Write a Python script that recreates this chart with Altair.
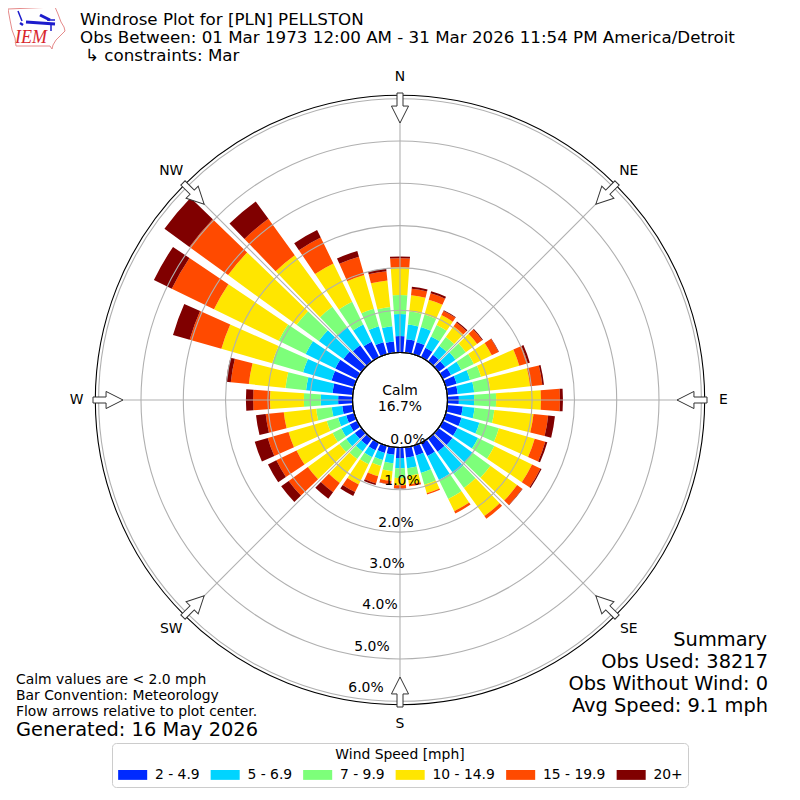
import math
import altair as alt
import pandas as pd

SPEEDS = ["2 - 4.9", "5 - 6.9", "7 - 9.9", "10 - 14.9", "15 - 19.9", "20+"]
COLORS = ["#002aff", "#00d4ff", "#7dff7a", "#ffe600", "#ff4a00", "#800000"]
DIRECTIONS = list(range(0, 360, 10))
# cumulative percent of observations at the top of each speed class
S1 = [.39,.32,.30,.25,.20,.20,.22,.27,.25,.27,.37,.39,.39,.41,.39,.35,.24,.25,.25,.18,.18,.20,.20,.20,.20,.20,.25,.34,.48,.56,.58,.53,.48,.41,.30,.27]
S2 = [.91,.67,.67,.55,.46,.50,.49,.60,.64,.63,.65,.83,.93,1.0,1.03,.98,.67,.50,.49,.38,.35,.38,.38,.45,.42,.40,.50,.75,1.11,1.26,1.36,1.25,1.0,.86,.69,.63]
S3 = [1.36,.98,.98,.85,.72,.80,.82,.87,1.02,1.15,1.12,1.31,1.36,1.52,1.45,1.48,.96,.68,.72,.57,.50,.57,.60,.65,.65,.68,.87,1.15,1.6,2.02,2.07,1.9,1.6,1.46,1.12,1.09]
S4 = [2.02,1.37,1.34,1.11,1.03,1.13,1.29,1.81,1.97,2.21,2.05,2.19,2.35,2.3,2.27,1.80,1.17,.88,.89,.80,.75,1.1,1.3,1.57,1.6,1.62,1.64,1.95,2.47,3.27,3.77,3.9,3.11,2.47,1.95,1.72]
S5 = [2.23,1.52,1.50,1.22,1.14,1.28,1.47,2.02,2.26,2.66,2.40,2.45,2.57,2.45,2.35,1.86,1.2,.93,.96,.88,.93,1.3,1.57,2.13,2.13,2.13,2.07,2.35,2.9,4.05,4.88,5.03,4.17,3.15,2.4,1.94]
S6 = [2.27,1.57,1.55,1.24,1.17,1.30,1.48,2.07,2.30,2.73,2.56,2.50,2.60,2.46,2.35,1.86,1.2,.93,.97,.89,.97,1.4,1.76,2.35,2.35,2.45,2.3,2.52,3.01,4.46,5.35,5.76,4.68,3.35,2.54,2.0]
SERIES = [S1, S2, S3, S4, S5, S6]

RINGS = [1, 2, 3, 4, 5, 6]
RING_LABELS = ["0.0%", "1.0%", "2.0%", "3.0%", "4.0%", "5.0%", "6.0%"]
RING_LABEL_X = [408, 402, 396, 387, 380, 372, 366]
RING_LABEL_Y = [440, 481, 523, 564, 605, 647, 688]
COMPASS = ["N", "NE", "E", "SE", "S", "SW", "W", "NW"]
COMPASS_DEG = [0, 45, 90, 135, 180, 225, 270, 315]

R0, PX = 47.5, 42.3      # pixel radius of 0 % and pixels per 1 %
CX, CY = 392, 392        # plot centre inside the 784 px canvas
BAR_DEG = 8.0

rscale = alt.Scale(type="linear", domain=[0, 6], range=[R0, R0 + 6 * PX], zero=False, clamp=False)
xscale = alt.Scale(domain=[-CX, CX], range=[0, 784], nice=False, zero=False)
yscale = alt.Scale(domain=[CY, -CY], range=[0, 784], nice=False, zero=False)

rows = []
for i, d in enumerate(DIRECTIONS):
    lo = 0.0
    for k, name in enumerate(SPEEDS):
        hi = SERIES[k][i]
        rows.append(dict(speed=name, order=k,
                         t0=math.radians(d - BAR_DEG / 2), t1=math.radians(d + BAR_DEG / 2), r0=lo, r1=hi))
        lo = hi
bars_df = pd.DataFrame(rows)

legend = alt.Legend(
    title="Wind Speed [mph]", orient="none", legendX=104, legendY=735, direction="horizontal",
    columns=6, gridAlign="each", columnPadding=9.5, symbolType="M-1,-0.85H4V0.85H-1Z", symbolSize=135,
    symbolStrokeWidth=0, labelFontSize=13.9, titleFontSize=13.9, labelFont="DejaVu Sans", titleFont="DejaVu Sans",
    labelColor="black", titleColor="black", titleFontWeight="normal", titleAnchor="middle", titlePadding=6,
    fillColor="white", strokeColor="#cccccc", cornerRadius=4, padding=5, labelOffset=24, labelLimit=100,
)

bars = alt.Chart(bars_df).mark_arc(strokeWidth=0).encode(
    theta=alt.Theta("t0:Q", scale=None),
    theta2=alt.Theta2("t1:Q"),
    radius=alt.Radius("r1:Q", scale=rscale, stack=None),
    radius2=alt.Radius2("r0:Q"),
    color=alt.Color("speed:N", scale=alt.Scale(domain=SPEEDS, range=COLORS), legend=legend),
)

rings = alt.Chart(pd.DataFrame({"v": RINGS})).mark_arc(
    theta=0, theta2=2 * math.pi, filled=False, stroke="#b0b0b0", strokeWidth=1.1
).encode(radius=alt.Radius("v:Q", scale=rscale, stack=None))

outer = alt.Chart(pd.DataFrame({"v": [6.08]})).mark_arc(
    theta=0, theta2=2 * math.pi, filled=False, stroke="black", strokeWidth=1.1
).encode(radius=alt.Radius("v:Q", scale=rscale, stack=None))

calm = alt.Chart(pd.DataFrame({"v": [0.0]})).mark_arc(
    theta=0, theta2=2 * math.pi, fill="white", stroke="black", strokeWidth=1.1
).encode(radius=alt.Radius("v:Q", scale=rscale, stack=None))

spokes_df = pd.DataFrame([
    dict(x=R0 * math.sin(math.radians(a)), y=R0 * math.cos(math.radians(a)),
         x2=(R0 + 6 * PX) * math.sin(math.radians(a)), y2=(R0 + 6 * PX) * math.cos(math.radians(a)))
    for a in COMPASS_DEG])
spokes = alt.Chart(spokes_df).mark_rule(stroke="#b0b0b0", strokeWidth=1.1).encode(
    x=alt.X("x:Q", scale=xscale, axis=None), y=alt.Y("y:Q", scale=yscale, axis=None),
    x2="x2:Q", y2="y2:Q")

ARROW = "M-0.2,-1L0.2,-1L0.2,-0.13L0.57,-0.13L0,1L-0.57,-0.13L-0.2,-0.13Z"
arrow_df = pd.DataFrame([
    dict(x=292 * math.sin(math.radians(a)), y=292 * math.cos(math.radians(a)), a=a) for a in COMPASS_DEG])
arrows = alt.Chart(arrow_df).mark_point(
    shape=ARROW, size=900, filled=True, fill="white", fillOpacity=1, stroke="#333333", strokeWidth=1, opacity=1
).encode(x=alt.X("x:Q", scale=xscale, axis=None), y=alt.Y("y:Q", scale=yscale, axis=None),
         angle=alt.Angle("a:Q", scale=None))

compass_df = pd.DataFrame([
    dict(x=323.5 * math.sin(math.radians(a)), y=323.5 * math.cos(math.radians(a)), t=t)
    for a, t in zip(COMPASS_DEG, COMPASS)])
compass = alt.Chart(compass_df).mark_text(font="DejaVu Sans", fontSize=13.9, color="black").encode(
    x=alt.X("x:Q", scale=xscale, axis=None), y=alt.Y("y:Q", scale=yscale, axis=None), text="t:N")

def label(text, x, y, size=13.9, align="left", color="black", **kw):
    return alt.Chart(pd.DataFrame({"t": [text]})).mark_text(
        font=kw.pop("font", "DejaVu Sans"), fontSize=size, align=align, baseline="middle", color=color, **kw
    ).encode(x=alt.value(x - 8), y=alt.value(y - 8), text="t:N")

texts = [label(t, x, y, align="center") for t, x, y in zip(RING_LABELS, RING_LABEL_X, RING_LABEL_Y)]
texts += [
    label("Calm", 400, 391, align="center"),
    label("16.7%", 400, 407, align="center"),
    label("Windrose Plot for [PLN] PELLSTON", 80, 20, 16.7),
    label("Obs Between: 01 Mar 1973 12:00 AM - 31 Mar 2026 11:54 PM America/Detroit", 80, 38, 16.7),
    label("\u21b3 constraints: Mar", 85, 55.5, 16.7),
    label("Calm values are < 2.0 mph", 16, 680, 13.9),
    label("Bar Convention: Meteorology", 16, 696, 13.9),
    label("Flow arrows relative to plot center.", 16, 712, 13.9),
    label("Generated: 16 May 2026", 16, 730, 19.4),
    label("Summary", 767, 640, 19.4, align="right"),
    label("Obs Used: 38217", 768, 662, 19.4, align="right"),
    label("Obs Without Wind: 0", 768, 684, 19.4, align="right"),
    label("Avg Speed: 9.1 mph", 768, 706, 19.4, align="right"),
    label("IEM", 31, 38, 18, align="center", color="#d8262c", font="Liberation Serif", fontStyle="italic"),
]

# logo
IOWA_X = [8, 55, 58, 61, 64, 65, 60, 56, 53, 52, 50, 16, 15, 12, 10, 8]
IOWA_Y = [9, 7, 14, 22, 27, 31, 36, 40, 45, 49, 46, 46, 38, 30, 20, 9]
iowa = alt.Chart(pd.DataFrame({"x": [v - 8 for v in IOWA_X], "y": [v - 8 for v in IOWA_Y], "o": range(len(IOWA_X))})).mark_line(
    color="#e58a8a", strokeWidth=1).encode(
    x=alt.X("x:Q", scale=None), y=alt.Y("y:Q", scale=None), order="o:Q")
BARB = [((26, 22), (55, 24), 3.0), ((40, 15), (50, 20), 3.0), ((47, 20), (55, 20), 1.5),
        ((51, 25), (51, 31), 1.5), ((18, 11), (22, 21), 1.5), ((20, 23), (23, 25), 2.5)]
barb_df = pd.DataFrame([dict(x=a[0] - 8, y=a[1] - 8, x2=b[0] - 8, y2=b[1] - 8, w=w) for a, b, w in BARB])
barb = alt.Chart(barb_df).mark_rule(color="#1c1ccc").encode(
    x=alt.X("x:Q", scale=None), y=alt.Y("y:Q", scale=None), x2="x2:Q", y2="y2:Q",
    strokeWidth=alt.StrokeWidth("w:Q", scale=None))

chart = alt.layer(bars, rings, spokes, outer, calm, arrows, compass, *texts, iowa, barb).resolve_scale(
    x="independent", y="independent"
).properties(width=784, height=784, padding=0, autosize=alt.AutoSizeParams(type="none")).configure_view(stroke=None)

chart.save("out.html", embed_options={"renderer": "svg", "actions": False})
